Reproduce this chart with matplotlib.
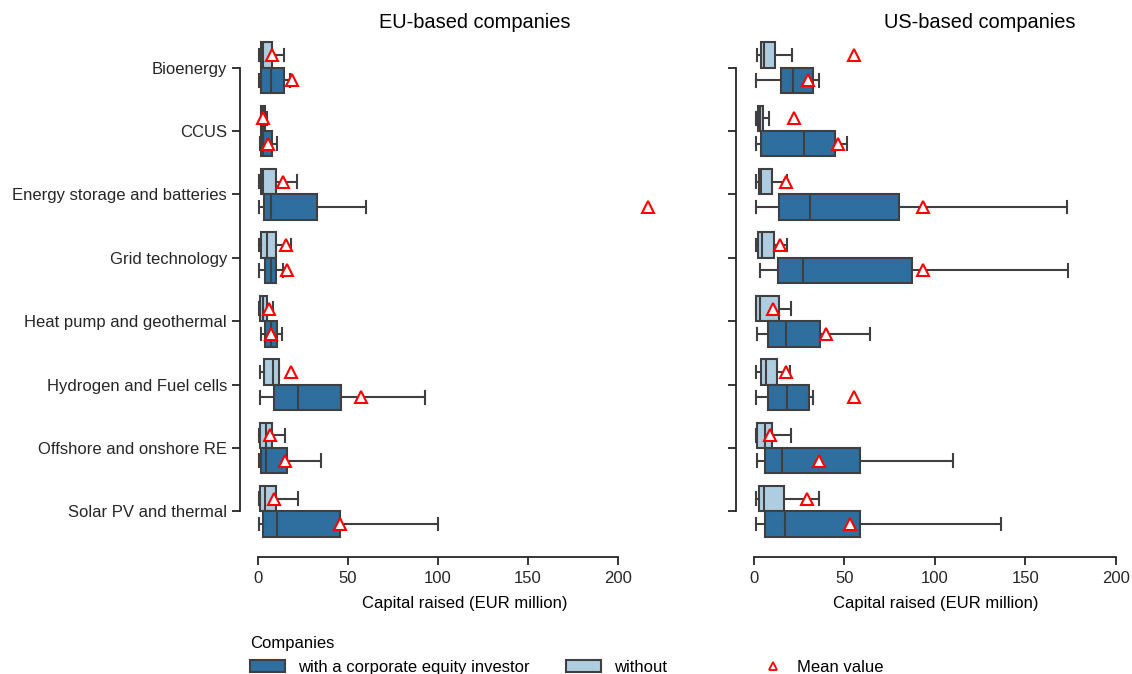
import matplotlib.pyplot as plt
from matplotlib.patches import Patch
from matplotlib.lines import Line2D
from matplotlib.legend_handler import HandlerLine2D

plt.rcParams['font.family'] = ['Liberation Sans', 'DejaVu Sans']
plt.rcParams['font.size'] = 12

sectors = ["Bioenergy", "CCUS", "Energy storage and batteries", "Grid technology",
           "Heat pump and geothermal", "Hydrogen and Fuel cells",
           "Offshore and onshore RE", "Solar PV and thermal"]

# box stats per sector: whisker low, q1, median, q3, whisker high, mean
eu_without_lo = [0.7, 1.5, 0.7, 0.7, 0.7, 1.1, 0.7, 0.7]
eu_without_q1 = [1.5, 1.8, 1.7, 1.8, 1.1, 3.5, 1.3, 1.3]
eu_without_med = [3.0, 3.0, 3.0, 4.8, 3.0, 8.5, 4.2, 4.1]
eu_without_q3 = [7.8, 4.1, 9.8, 9.8, 5.0, 11.9, 7.6, 9.8]
eu_without_hi = [14.4, 5.2, 21.9, 18.3, 8.1, 11.9, 15.0, 22.2]
eu_without_mean = [8.0, 3.0, 14.0, 15.4, 6.1, 18.5, 6.7, 8.7]

eu_with_lo = [0.7, 1.1, 0.7, 0.7, 1.7, 1.1, 0.7, 0.7]
eu_with_q1 = [1.6, 1.8, 3.5, 4.1, 3.9, 9.1, 1.5, 2.8]
eu_with_med = [7.0, 3.0, 7.0, 7.0, 7.0, 22.0, 4.4, 10.7]
eu_with_q3 = [14.4, 7.6, 33.0, 9.8, 10.4, 45.9, 16.1, 45.6]
eu_with_hi = [17.8, 10.7, 59.8, 14.0, 13.1, 92.8, 34.8, 100.0]
eu_with_mean = [18.7, 5.7, 216.7, 15.9, 7.0, 57.0, 15.2, 45.6]

us_without_lo = [1.7, 0.9, 0.9, 0.9, 0.9, 0.9, 0.9, 0.9]
us_without_q1 = [3.7, 2.4, 2.6, 2.0, 1.1, 3.7, 1.9, 2.6]
us_without_med = [5.5, 3.5, 3.9, 4.4, 3.5, 6.6, 6.1, 5.4]
us_without_q3 = [11.8, 5.0, 10.2, 10.9, 13.7, 12.7, 10.0, 16.6]
us_without_hi = [21.0, 8.3, 18.3, 18.3, 20.7, 19.8, 20.7, 36.0]
us_without_mean = [55.2, 22.0, 17.5, 14.6, 10.5, 17.5, 9.0, 29.3]

us_with_lo = [1.3, 0.9, 0.9, 3.5, 1.9, 0.9, 1.9, 0.9]
us_with_q1 = [15.0, 3.7, 14.0, 13.3, 8.0, 7.7, 6.3, 6.3]
us_with_med = [21.6, 27.7, 31.0, 27.0, 17.5, 18.5, 15.3, 17.2]
us_with_q3 = [32.7, 44.7, 80.0, 87.6, 36.4, 30.6, 58.9, 58.9]
us_with_hi = [36.0, 51.5, 173.0, 173.5, 64.4, 32.5, 110.0, 136.5]
us_with_mean = [29.9, 46.5, 93.5, 93.2, 39.7, 55.4, 36.0, 53.0]

c_with = "#2f6f9f"
c_without = "#aecde1"
edge = "#3f3f3f"


def make_stats(lo, q1, med, q3, hi, mean):
    return [dict(whislo=a, q1=b, med=c, q3=d, whishi=e, mean=f, fliers=[])
            for a, b, c, d, e, f in zip(lo, q1, med, q3, hi, mean)]


def draw(ax, stats, pos, color):
    ax.bxp(stats, positions=pos, widths=0.4, vert=False, patch_artist=True,
           showmeans=True, showfliers=False,
           boxprops=dict(facecolor=color, edgecolor=edge, linewidth=1.5),
           medianprops=dict(color=edge, linewidth=1.5),
           whiskerprops=dict(color=edge, linewidth=1.5),
           capprops=dict(color=edge, linewidth=1.5),
           meanprops=dict(marker="^", markerfacecolor="white",
                          markeredgecolor="red", markersize=8,
                          markeredgewidth=1.5))


class RightMarker(HandlerLine2D):
    # put the single marker near the right end of the handle box
    def get_xdata(self, legend, xdescent, ydescent, width, height, fontsize):
        xm = -xdescent + width - 8
        return [xm - 1, xm + 1], [xm]


fig = plt.figure(figsize=(11.32, 6.74), dpi=100)
ax1 = fig.add_axes([254 / 1132, 131 / 674, 422 / 1132, 507 / 674])
ax2 = fig.add_axes([750 / 1132, 131 / 674, 372 / 1132, 507 / 674])

idx = list(range(len(sectors)))
panels = [
    (ax1, "EU-based companies",
     make_stats(eu_without_lo, eu_without_q1, eu_without_med, eu_without_q3, eu_without_hi, eu_without_mean),
     make_stats(eu_with_lo, eu_with_q1, eu_with_med, eu_with_q3, eu_with_hi, eu_with_mean),
     (-2.2, 232.2), 0.524),
    (ax2, "US-based companies",
     make_stats(us_without_lo, us_without_q1, us_without_med, us_without_q3, us_without_hi, us_without_mean),
     make_stats(us_with_lo, us_with_q1, us_with_med, us_with_q3, us_with_hi, us_with_mean),
     (-2.2, 203.5), 0.618),
]

for ax, title, st_without, st_with, xlim, tx in panels:
    draw(ax, st_without, [i - 0.2 for i in idx], c_without)
    draw(ax, st_with, [i + 0.2 for i in idx], c_with)
    ax.set_ylim(7.5, -0.5)
    ax.set_xlim(*xlim)
    ax.set_xticks([0, 50, 100, 150, 200])
    ax.set_yticks(idx)
    ax.set_xlabel("Capital raised (EUR million)", labelpad=7)
    ax.set_title(title, x=tx, pad=6)
    for s in ["top", "right"]:
        ax.spines[s].set_visible(False)
    ax.spines["left"].set_position(("outward", 10))
    ax.spines["bottom"].set_position(("outward", 10))
    ax.spines["left"].set_bounds(0, 7)
    ax.spines["bottom"].set_bounds(0, 200)
    for s in ["left", "bottom"]:
        ax.spines[s].set_linewidth(1.3)
        ax.spines[s].set_color("#262626")
    ax.tick_params(width=1.3, length=6, color="#262626", labelcolor="#262626")
    ax.tick_params(axis="x", pad=4.5)

ax1.set_yticklabels(sectors)
ax2.set_yticklabels([])

patch_handles = [
    Patch(facecolor=c_with, edgecolor=edge, linewidth=1.5),
    Patch(facecolor=c_without, edgecolor=edge, linewidth=1.5),
]
leg1 = fig.legend(patch_handles, ["with a corporate equity investor", "without"],
                  title="Companies", ncol=2, frameon=False,
                  loc="lower left", bbox_to_anchor=(235 / 1132, -0.023),
                  alignment="left", handlelength=2.1, columnspacing=2.15,
                  title_fontsize=12, fontsize=12)

mean_handle = Line2D([], [], linestyle="none", marker="^", markerfacecolor="white",
                     markeredgecolor="red", markersize=6, markeredgewidth=1.3)
fig.legend([mean_handle], ["Mean value"], frameon=False,
           loc="lower left", bbox_to_anchor=(734 / 1132, -0.023),
           handlelength=2.1, fontsize=12,
           handler_map={Line2D: RightMarker(numpoints=1)})

fig.savefig("out.png", dpi=100)
